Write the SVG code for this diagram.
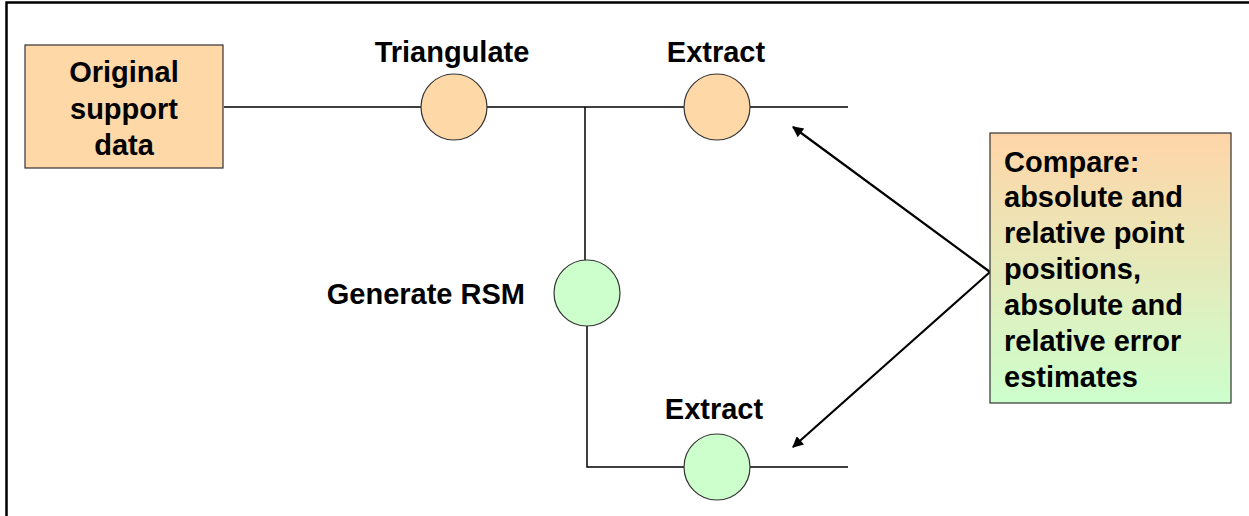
<svg xmlns="http://www.w3.org/2000/svg" width="1249" height="516" viewBox="0 0 1249 516">
  <style>
    .lbl { font-family: "Liberation Sans", Arial, sans-serif; font-weight: bold; font-size: 29px; fill: #000; }
    .wire { stroke: #000; stroke-width: 1.5; fill: none; }
    .arrow { stroke: #000; stroke-width: 2.2; fill: none; marker-end: url(#head); }
    .box { stroke: #333; stroke-width: 1.2; }
    .warm { fill: #FFD8A8; stroke: #333; stroke-width: 1.2; }
    .cool { fill: #CCFFCC; stroke: #333; stroke-width: 1.2; }
  </style>
  <defs>
    <marker id="head" viewBox="0 0 10 10" refX="9" refY="5" markerWidth="13" markerHeight="11" orient="auto" markerUnits="userSpaceOnUse">
      <path d="M0,0 L10,5 L0,10 z" fill="#000"/>
    </marker>
    <linearGradient id="cmpFill" x1="0" y1="0" x2="0" y2="1">
      <stop offset="0" stop-color="#FFD5A8"/>
      <stop offset="1" stop-color="#CCFFCC"/>
    </linearGradient>
  </defs>
  <rect width="1249" height="516" fill="#fff"/>
  <!-- frame -->
  <path d="M6.5,516 V2.5 H1249" stroke="#000" stroke-width="2.5" fill="none"/>

  <g id="connectors">
    <path class="wire" d="M224,107 H421 M487,107 H684 M750,107 H848"/>
    <path class="wire" d="M585,107 V260 M587,326 V467 H684 M750,467 H848"/>
    <path class="arrow" d="M990,272 L793,127"/>
    <path class="arrow" d="M990,272 L793,447"/>
  </g>

  <g id="original-data">
    <rect class="box" x="25" y="45" width="198" height="123" fill="#FFD8A8"/>
    <text class="lbl" text-anchor="middle" x="124" y="82">Original</text>
    <text class="lbl" text-anchor="middle" x="124" y="119">support</text>
    <text class="lbl" text-anchor="middle" x="124" y="155">data</text>
  </g>

  <g id="triangulate">
    <circle class="warm" cx="454" cy="107" r="33"/>
    <text class="lbl" text-anchor="middle" x="452" y="62">Triangulate</text>
  </g>

  <g id="extract-top">
    <circle class="warm" cx="717" cy="107" r="33"/>
    <text class="lbl" text-anchor="middle" x="716" y="62">Extract</text>
  </g>

  <g id="generate-rsm">
    <circle class="cool" cx="587" cy="293" r="33"/>
    <text class="lbl" text-anchor="end" x="525" y="304">Generate RSM</text>
  </g>

  <g id="extract-bottom">
    <circle class="cool" cx="717" cy="467" r="33"/>
    <text class="lbl" text-anchor="middle" x="714" y="419">Extract</text>
  </g>

  <g id="compare">
    <rect class="box" x="990" y="133" width="241" height="270" fill="url(#cmpFill)"/>
    <text class="lbl" x="1004" y="172">Compare:</text>
    <text class="lbl" x="1004" y="207">absolute and</text>
    <text class="lbl" x="1004" y="243">relative point</text>
    <text class="lbl" x="1004" y="279">positions,</text>
    <text class="lbl" x="1004" y="315">absolute and</text>
    <text class="lbl" x="1004" y="351">relative error</text>
    <text class="lbl" x="1004" y="387">estimates</text>
  </g>
</svg>
